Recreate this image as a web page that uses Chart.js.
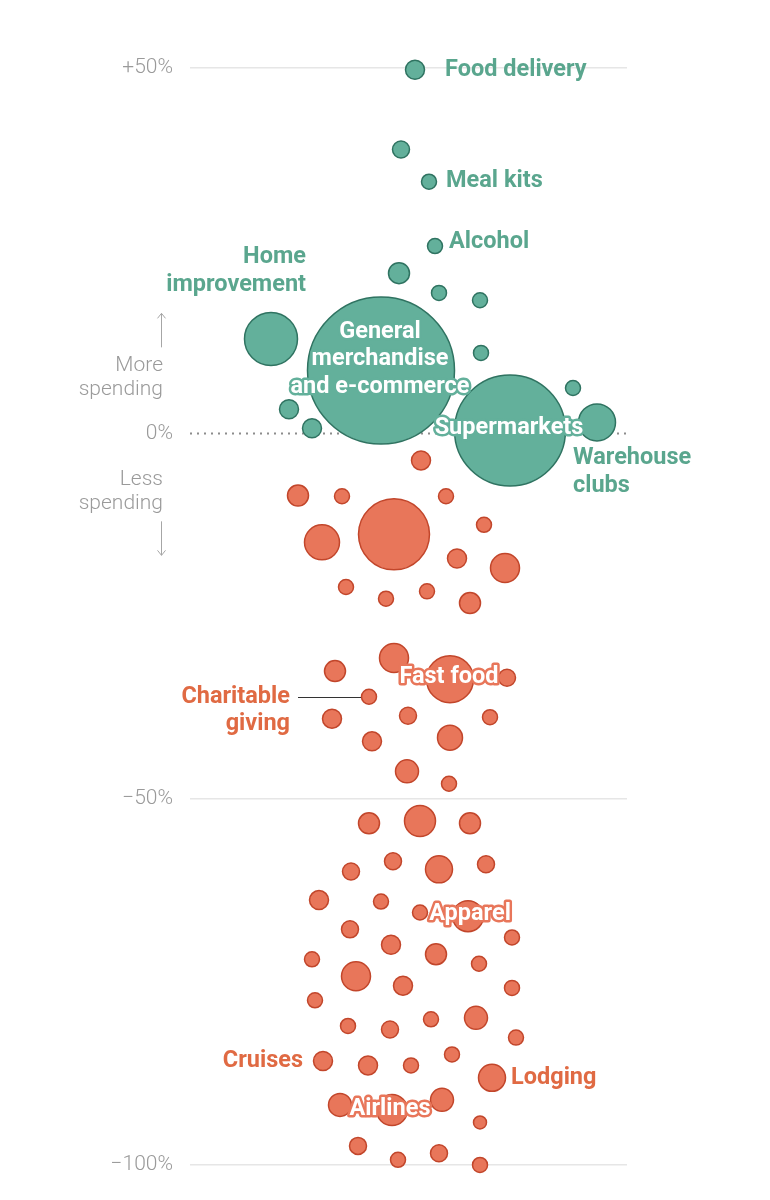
<!DOCTYPE html>
<html>
<head>
<meta charset="utf-8">
<title>Spending change by category</title>
<script src="https://cdn.jsdelivr.net/npm/chart.js@4.4.1/dist/chart.umd.min.js"></script>
<style>
  body { margin: 0; background: #fff; }
  .chart-container { position: relative; width: 770px; height: 1200px; }
</style>
</head>
<body>
<div class="chart-container"><canvas id="spendingChart"></canvas></div>
<script>
// --- Data ---
// one entry per spending category; '' = unlabelled bubble
const categories = [
  'Food delivery', '', 'Meal kits', 'Alcohol', '', '', '', 'Home improvement',
  'General merchandise and e-commerce', '', 'Supermarkets', '', 'Warehouse clubs', '', '',
  '', '', '', '', '', '', '', '', '', '', '', '', '',
  '', '', 'Fast food', '', 'Charitable giving', '', '', '', '', '', '', '',
  '', '', '', '', '', '', '', '', '', '', 'Apparel', '', '', '', '', '', '', '', '', '',
  '', '', '', '', '', '', 'Cruises', '', '', '', 'Lodging', '', 'Airlines', '', '', '', '', '', ''
];
// change in spending, %
const change = [
  49.7, 38.8, 34.4, 25.6, 21.9, 19.2, 18.2, 12.9,
  8.6, 11.0, 0.4, 6.2, 1.5, 3.3, 0.7,
  -3.7, -8.5, -8.6, -8.6, -13.8, -14.9, -12.5, -17.1, -18.4, -21.0, -22.6, -21.6, -23.2,
  -30.7, -32.5, -33.6, -33.4, -36.0, -39.0, -38.6, -38.8, -42.1, -41.6, -46.2, -47.9,
  -53.3, -53.0, -53.3, -58.5, -59.9, -59.6, -58.9, -63.8, -64.0, -65.5, -66.0, -68.9, -67.8, -69.9, -71.2, -71.9, -74.2, -72.5, -75.5, -75.8,
  -77.5, -81.0, -81.5, -80.1, -79.9, -82.6, -85.8, -86.4, -86.4, -84.9, -88.1, -91.8, -92.5, -91.1, -94.2, -97.4, -99.3, -98.4, -100.0
];
// horizontal beeswarm lane (no meaning beyond avoiding overlap)
const lane = [
  415, 401, 429, 435, 399, 439, 480, 271,
  381, 481, 510, 573, 597, 289, 312,
  421, 298, 342, 446, 394, 322, 484, 457, 505, 346, 386, 427, 470,
  394, 335, 450, 507, 369, 332, 408, 490, 372, 450, 407, 449,
  369, 420, 470, 393, 351, 439, 486, 319, 381, 420, 468, 512, 350, 391, 436, 312, 356, 479, 403, 512,
  315, 348, 390, 431, 476, 516, 323, 368, 411, 452, 492, 340, 392, 442, 480, 358, 398, 439, 480
];
// bubble radius (share of overall spending)
const share = [
  10, 9, 8, 8, 11, 8, 8, 27,
  74, 8, 56, 8, 19, 10, 10,
  10, 11, 8, 8, 36, 18, 8, 10, 15, 8, 8, 8, 11,
  15, 11, 24, 9, 8, 10, 9, 8, 10, 13, 12, 8,
  11, 16, 11, 9, 9, 14, 9, 10, 8, 8, 16, 8, 9, 10, 11, 8, 15, 8, 10, 8,
  8, 8, 9, 8, 12, 8, 10, 10, 8, 8, 14, 12, 16, 12, 7, 9, 8, 9, 8
];
const yTicks = [50, 0, -50, -100];
const yTickLabels = ['+50%', '0%', '−50%', '−100%'];

// --- Styles ---
const GREEN = '#63b09b', GREEN_LINE = '#2f7361', GREEN_TEXT = '#5aa68e';
const ORANGE = '#e8765a', ORANGE_LINE = '#c2462b', ORANGE_TEXT = '#e06a43';
const LABEL_FONT = 'bold 23.5px Roboto, "Liberation Sans", sans-serif';
const SIDE_FONT = '300 21px Roboto, "Liberation Sans", sans-serif';

// label placement relative to its bubble (px)
const labelStyle = {
  'Food delivery': { align: 'left', dx: 30, dy: [0] },
  'Meal kits': { align: 'left', dx: 17, dy: [-1] },
  'Alcohol': { align: 'left', dx: 14, dy: [-4] },
  'Home improvement': { align: 'right', dx: 35, lines: ['Home', 'improvement'], dy: [-82, -54] },
  'General merchandise and e-commerce': { inside: true, dx: -1, lines: ['General', 'merchandise', 'and e-commerce'], dy: [-38, -11, 17] },
  'Supermarkets': { inside: true, dx: -1, dy: [-2] },
  'Warehouse clubs': { align: 'left', dx: -24, lines: ['Warehouse', 'clubs'], dy: [36, 64] },
  'Fast food': { inside: true, dx: -1, dy: [-2] },
  'Charitable giving': { align: 'right', dx: -79, lines: ['Charitable', 'giving'], dy: [0, 27], leader: [-71, -8] },
  'Apparel': { inside: true, dx: 2, dy: [-2] },
  'Cruises': { align: 'right', dx: -20, dy: [0] },
  'Lodging': { align: 'left', dx: 19, dy: [0] },
  'Airlines': { inside: true, dx: -2, dy: [-1] }
};

const points = categories.map((name, i) => ({ x: lane[i], y: change[i], r: share[i] - 0.5, name: name }));

// --- Plugin: dotted zero line ---
const zeroLine = {
  id: 'zeroLine',
  beforeDatasetsDraw(chart) {
    const { ctx, chartArea, scales } = chart;
    const y = Math.round(scales.y.getPixelForValue(0)) + 0.5;
    ctx.save();
    ctx.strokeStyle = '#8c8c8c';
    ctx.lineWidth = 2;
    ctx.setLineDash([2, 5]);
    ctx.beginPath();
    ctx.moveTo(chartArea.left, y);
    ctx.lineTo(chartArea.right, y);
    ctx.stroke();
    ctx.restore();
  }
};

// --- Plugin: labels, side notes and arrows ---
const annotations = {
  id: 'annotations',
  afterDatasetsDraw(chart) {
    const { ctx, scales } = chart;
    const meta = chart.getDatasetMeta(0);
    ctx.save();
    ctx.font = LABEL_FONT;
    ctx.textBaseline = 'middle';
    ctx.lineJoin = 'round';

    meta.data.forEach((el, i) => {
      const name = categories[i];
      const st = labelStyle[name];
      if (!st) return;
      const up = change[i] >= 0;
      const lines = st.lines || [name];
      const x = el.x + st.dx;

      if (st.leader) {
        ctx.strokeStyle = '#333';
        ctx.lineWidth = 1;
        ctx.beginPath();
        ctx.moveTo(el.x + st.leader[0], Math.round(el.y) + 0.5);
        ctx.lineTo(el.x + st.leader[1], Math.round(el.y) + 0.5);
        ctx.stroke();
      }

      lines.forEach((line, k) => {
        const y = el.y + st.dy[k];
        if (st.inside) {
          ctx.textAlign = 'center';
          ctx.strokeStyle = up ? GREEN : ORANGE;
          ctx.lineWidth = 5;
          ctx.strokeText(line, x, y);
          ctx.fillStyle = '#fff';
          ctx.fillText(line, x, y);
        } else {
          ctx.textAlign = st.align;
          ctx.fillStyle = up ? GREEN_TEXT : ORANGE_TEXT;
          ctx.fillText(line, x, y);
        }
      });
    });

    // side notes: "More spending" / "Less spending"
    const y0 = scales.y.getPixelForValue(0);
    const ax = 161.5;
    ctx.font = SIDE_FONT;
    ctx.fillStyle = '#9a9a9a';
    ctx.textAlign = 'right';
    ctx.fillText('More', 163, y0 - 68);
    ctx.fillText('spending', 163, y0 - 44);
    ctx.fillText('Less', 163, y0 + 46);
    ctx.fillText('spending', 163, y0 + 70);

    ctx.strokeStyle = '#a6a6a6';
    ctx.lineWidth = 1;
    ctx.beginPath();
    // up arrow
    ctx.moveTo(ax, y0 - 86); ctx.lineTo(ax, y0 - 120);
    ctx.moveTo(ax - 4, y0 - 115); ctx.lineTo(ax, y0 - 120); ctx.lineTo(ax + 4, y0 - 115);
    // down arrow
    ctx.moveTo(ax, y0 + 88); ctx.lineTo(ax, y0 + 122);
    ctx.moveTo(ax - 4, y0 + 117); ctx.lineTo(ax, y0 + 122); ctx.lineTo(ax + 4, y0 + 117);
    ctx.stroke();
    ctx.restore();
  }
};

// --- Chart ---
const ctx = document.getElementById('spendingChart').getContext('2d');
new Chart(ctx, {
  type: 'bubble',
  data: {
    datasets: [{
      label: 'Change in spending',
      data: points,
      backgroundColor: c => (c.raw && c.raw.y >= 0 ? GREEN : ORANGE),
      borderColor: c => (c.raw && c.raw.y >= 0 ? GREEN_LINE : ORANGE_LINE),
      borderWidth: 1.5,
      hoverRadius: 0,
      clip: false
    }]
  },
  options: {
    responsive: true,
    maintainAspectRatio: false,
    animation: false,
    events: [],
    layout: { autoPadding: false, padding: { top: 31, right: 143, bottom: 1, left: 0 } },
    plugins: {
      legend: { display: false },
      tooltip: { enabled: false }
    },
    scales: {
      x: {
        type: 'linear',
        min: 190,
        max: 627,
        display: false
      },
      y: {
        type: 'linear',
        min: -100.75,
        max: 55,
        afterFit: axis => { axis.width = 190; },
        afterBuildTicks: axis => { axis.ticks = yTicks.map(v => ({ value: v })); },
        grid: {
          drawTicks: false,
          color: c => (c.tick && c.tick.value === 0 ? 'rgba(0,0,0,0)' : '#e6e6e6'),
          lineWidth: 1.5
        },
        border: { display: false },
        ticks: {
          padding: 17,
          color: '#9a9a9a',
          font: { family: 'Roboto', size: 21, weight: '300' },
          callback: value => yTickLabels[yTicks.indexOf(value)]
        }
      }
    }
  },
  plugins: [zeroLine, annotations]
});
</script>
</body>
</html>
